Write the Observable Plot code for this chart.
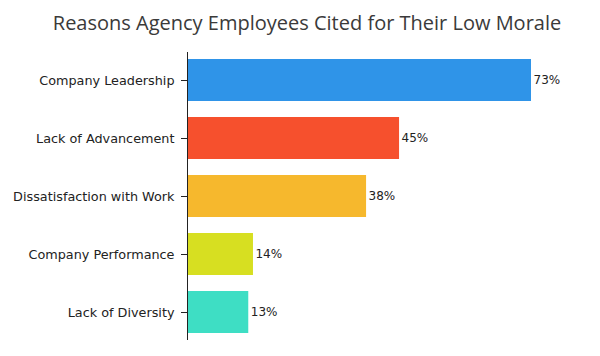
<!DOCTYPE html>
<html>
<head>
<meta charset="utf-8">
<script src="https://cdn.jsdelivr.net/npm/d3@7"></script>
<script src="https://cdn.jsdelivr.net/npm/@observablehq/plot@0.6"></script>
<style>
  html, body { margin: 0; padding: 0; background: #fff; }
  #title { height: 42px; line-height: 45px; text-align: center; font-family: "Open Sans", sans-serif; font-size: 20px; color: #3a3a3a; padding-left: 14px; }
</style>
</head>
<body>
<div id="title">Reasons Agency Employees Cited for Their Low Morale</div>
<div id="chart"></div>
<script>
const categories = ["Company Leadership", "Lack of Advancement", "Dissatisfaction with Work", "Company Performance", "Lack of Diversity"];
const values = [73, 45, 38, 14, 13];
const colors = ["#2F94E8", "#F6502D", "#F6B82D", "#D7DF21", "#3EDEC4"];

const data = categories.map((c, i) => ({category: c, value: values[i], color: colors[i]}));

const chart = Plot.plot({
  width: 600,
  height: 314,
  marginLeft: 187,
  marginRight: 69,
  marginTop: 10,
  marginBottom: 16,
  style: {fontFamily: "'DejaVu Sans', sans-serif", fontSize: "12.8px", color: "#222"},
  x: {domain: [0, 73], axis: null},
  y: {domain: categories, paddingInner: 0.276, paddingOuter: 0.12, label: null},
  marks: [
    Plot.barX(data, {x: "value", y: "category", fill: "color"}),
    Plot.text(data, {x: "value", y: "category", text: d => d.value + "%", textAnchor: "start", dx: 2, fill: "#222", fontSize: 12}),
    Plot.ruleX([0], {stroke: "#222"}),
    Plot.axisY({tickSize: 6, tickPadding: 7, stroke: "#222", fontSize: 12.8})
  ]
});
document.getElementById("chart").appendChild(chart);
</script>
</body>
</html>
